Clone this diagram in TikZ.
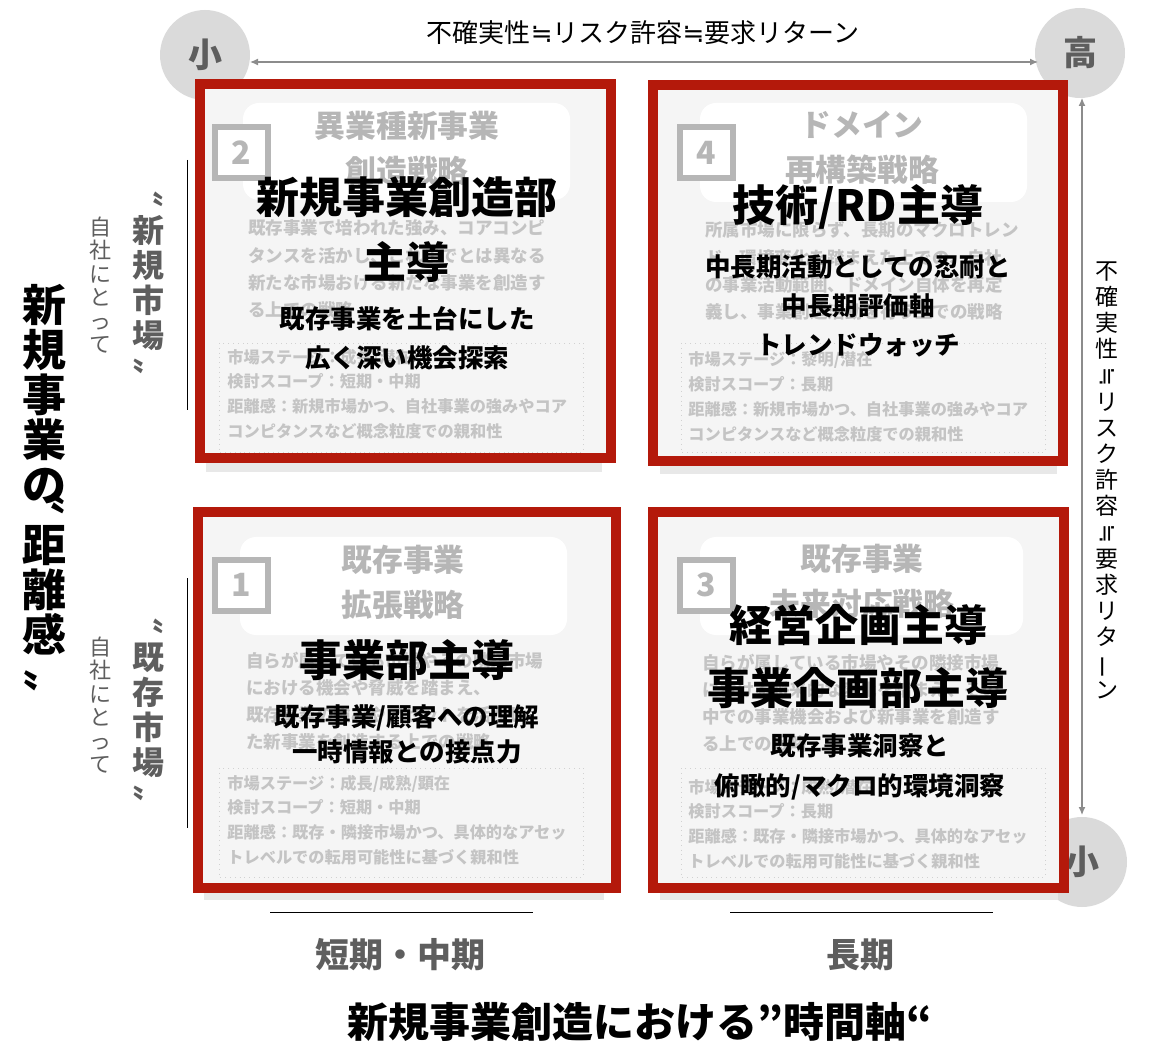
\documentclass[tikz,border=0pt]{standalone}
\usepackage{fontspec}
\setmainfont{Noto Sans CJK JP}
\newfontfamily\symfont{DejaVu Sans}
\newcommand{\nearlyeq}{{\symfont ≒}}
\usepackage{graphicx}
\usetikzlibrary{arrows.meta}

\definecolor{frame}{HTML}{B4190B}
\definecolor{panel}{HTML}{F5F5F5}
\definecolor{fade}{HTML}{B6B6B6}
\definecolor{faint}{HTML}{C4C4C4}
\definecolor{ink}{HTML}{5E5E5E}
\definecolor{bubblegray}{HTML}{DADADA}

\begin{document}
\begin{tikzpicture}[x=0.5pt, y=-0.5pt,
    quad/.style={draw=frame, line width=5pt, fill=panel},
    underlay/.style={fill=black!9},
    titlebox/.style={fill=white, rounded corners=8pt},
    numbox/.style={draw=fade, line width=3pt, fill=white, text=fade, font=\bfseries\fontsize{16}{16}\selectfont, minimum width=26.5pt, minimum height=25.5pt, inner sep=0},
    heading/.style={text=fade, font=\bfseries\fontsize{15.4}{22.5}\selectfont, align=center, inner sep=0},
    desc/.style={text=faint, font=\bfseries\fontsize{8.75}{13.6}\selectfont, align=left, inner sep=0, anchor=base west},
    info/.style={text=faint, font=\bfseries\fontsize{8.1}{12.4}\selectfont, align=left, inner sep=0, anchor=base west},
    infobox/.style={draw=black!18, dotted, line width=0.4pt},
    lead/.style={font=\bfseries\fontsize{21.5}{32.5}\selectfont, align=center, inner sep=0},
    subline/.style={font=\bfseries\fontsize{12.75}{19.5}\selectfont, align=center, inner sep=0},
    bubble/.style={circle, fill=bubblegray, minimum size=45pt, inner sep=0, text=ink, font=\bfseries\fontsize{17}{17}\selectfont},
    scalearrow/.style={draw=black!45, line width=0.6pt, {Latex[length=4pt,width=3.5pt]}-{Latex[length=4pt,width=3.5pt]}},
    vtext/.style={align=center, inner sep=0}
  ]
  \useasboundingbox (0,0) rectangle (1158,1048);

  % scale of uncertainty
  \node[bubble] (lo) at (205,55) {小};
  \node[bubble] (hi) at (1080,53) {高};
  \node[bubble] (lo2) at (1082,862) {小};

  \coordinate (h0) at (250,62);
  \coordinate (h1) at (1038,62);
  \draw[scalearrow] (h0) -- (h1);
  \node[font=\fontsize{13}{13}\selectfont] (hlabel) at (643,33) {不確実性\nearlyeq リスク許容\nearlyeq 要求リターン};

  \coordinate (v0) at (1082,98);
  \coordinate (v1) at (1082,815);
  \draw[scalearrow] (v0) -- (v1);
  \node[vtext, font=\fontsize{11.5}{13.1}\selectfont] (vlabel) at (1107,480) {不\\確\\実\\性\\\rotatebox[origin=c]{90}{\nearlyeq}\\リ\\ス\\ク\\許\\容\\\rotatebox[origin=c]{90}{\nearlyeq}\\要\\求\\リ\\タ\\\rotatebox[origin=c]{90}{ー}\\ン};

  % 2
  \fill[underlay] (206,458) rectangle (602,472);
  \draw[quad] (200,84) rectangle (611,458);
  \fill[titlebox] (243,103) rectangle (570,200);
  \node[heading] (t2) at (407,148) {異業種新事業\\創造戦略};
  \node[numbox] (n2) at (241,153) {2};
  \node[desc] (d2) at (248,316.6) {既存事業で培われた強み、コアコンピ\\タンスを活かし、これまでとは異なる\\新たな市場おける新たな事業を創造す\\る上での戦略};
  \draw[infobox] (219,343) rectangle (583,452);
  \node[info] (i2) at (227,437.4) {市場ステージ：成長/潜在\\検討スコープ：短期・中期\\距離感：新規市場かつ、自社事業の強みやコア\\コンピタンスなど概念粒度での親和性};
  \node[lead] (l2) at (407,230) {新規事業創造部\\主導};
  \node[subline] (s2) at (407,338) {既存事業を土台にした\\広く深い機会探索};

  % 4
  \fill[underlay] (660,461) rectangle (1057,474);
  \draw[quad] (652.5,85) rectangle (1063,461);
  \fill[titlebox] (700,103) rectangle (1027,202);
  \node[heading] (t4) at (862,148) {ドメイン\\再構築戦略};
  \node[numbox] (n4) at (706,153) {4};
  \node[desc] (d4) at (705,318.6) {所属市場に限らず、長期のマクロトレン\\ド、環境変化を踏まえた上での、自社\\の事業活動範囲、ドメイン自体を再定\\義し、事業創造活動を行う上での戦略};
  \draw[infobox] (681,343) rectangle (1045,452);
  \node[info] (i4) at (688,440.4) {市場ステージ：黎明/潜在\\検討スコープ：長期\\距離感：新規市場かつ、自社事業の強みやコア\\コンピタンスなど概念粒度での親和性};
  \node[lead] (l4) at (858,207) {技術/RD主導};
  \node[subline] (s4) at (858,306) {中長期活動としての忍耐と\\中長期評価軸\\トレンドウォッチ};

  % 1
  \fill[underlay] (204,888) rectangle (604,900);
  \draw[quad] (198,512) rectangle (616,888);
  \fill[titlebox] (240,537) rectangle (567,635);
  \node[heading] (t1) at (403,582) {既存事業\\拡張戦略};
  \node[numbox] (n1) at (241,585) {1};
  \node[desc] (d1) at (246,748.6) {自らが属している市場やその隣接市場\\における機会や脅威を踏まえ、\\既存事業の強みやアセットを活かし\\た新事業を創造する上での戦略};
  \draw[infobox] (219,768) rectangle (583,877);
  \node[info] (i1) at (227,863.4) {市場ステージ：成長/成熟/顕在\\検討スコープ：短期・中期\\距離感：既存・隣接市場かつ、具体的なアセッ\\トレベルでの転用可能性に基づく親和性};
  \node[lead] (l1) at (407,660) {事業部主導};
  \node[subline] (s1) at (407,734) {既存事業/顧客への理解\\[-2pt]一時情報との接点力};

  % 3
  \fill[underlay] (660,888) rectangle (1058,900);
  \draw[quad] (653,512) rectangle (1064,888);
  \fill[titlebox] (700,537) rectangle (1023,635);
  \node[heading] (t3) at (862,581) {既存事業\\未来対応戦略};
  \node[numbox] (n3) at (706,585) {3};
  \node[desc] (d3) at (702,750.6) {自らが属している市場やその隣接市場\\における将来的な変化を踏まえ、その\\中での事業機会および新事業を創造す\\る上での戦略};
  \draw[infobox] (681,768) rectangle (1045,877);
  \node[info] (i3) at (688,867.4) {市場ステージ：成熟/潜在\\検討スコープ：長期\\距離感：既存・隣接市場かつ、具体的なアセッ\\トレベルでの転用可能性に基づく親和性};
  \node[lead] (l3) at (858,657) {経営企画主導\\[-1pt]事業企画部主導};
  \node[subline] (s3) at (860,767) {既存事業洞察と\\[0.5pt]俯瞰的/マクロ的環境洞察};

  % left axis
  \node[vtext, font=\bfseries\fontsize{22}{22.5}\selectfont] (dist) at (45,488) {新\\規\\事\\業\\の\\[-7.5pt]〝\\[-7.5pt]距\\離\\感\\[-5pt]〟};
  \node[vtext, text=ink, font=\bfseries\fontsize{16}{17.5}\selectfont] (newmkt) at (148,283) {〝\\[-6pt]新\\規\\市\\場\\[-6pt]〟};
  \node[vtext, text=ink, font=\fontsize{11}{11.7}\selectfont] (self1) at (100,285) {自\\社\\に\\と\\っ\\て};
  \draw (187,160) -- (187,410);
  \node[vtext, text=ink, font=\bfseries\fontsize{16}{17.5}\selectfont] (oldmkt) at (148,710) {〝\\[-6pt]既\\存\\市\\場\\[-6pt]〟};
  \node[vtext, text=ink, font=\fontsize{11}{11.7}\selectfont] (self2) at (100,705) {自\\社\\に\\と\\っ\\て};
  \draw (187,578) -- (187,828);

  % bottom axis
  \draw (270,912) -- (533,912);
  \draw (730,912) -- (993,912);
  \node[text=ink, font=\bfseries\fontsize{17}{17}\selectfont] (short) at (400,955) {短期・中期};
  \node[text=ink, font=\bfseries\fontsize{17}{17}\selectfont] (long) at (860,955) {長期};
  \node[font=\bfseries\fontsize{20.5}{20.5}\selectfont] (time) at (640,1022) {新規事業創造における”時間軸“};
\end{tikzpicture}
\end{document}
